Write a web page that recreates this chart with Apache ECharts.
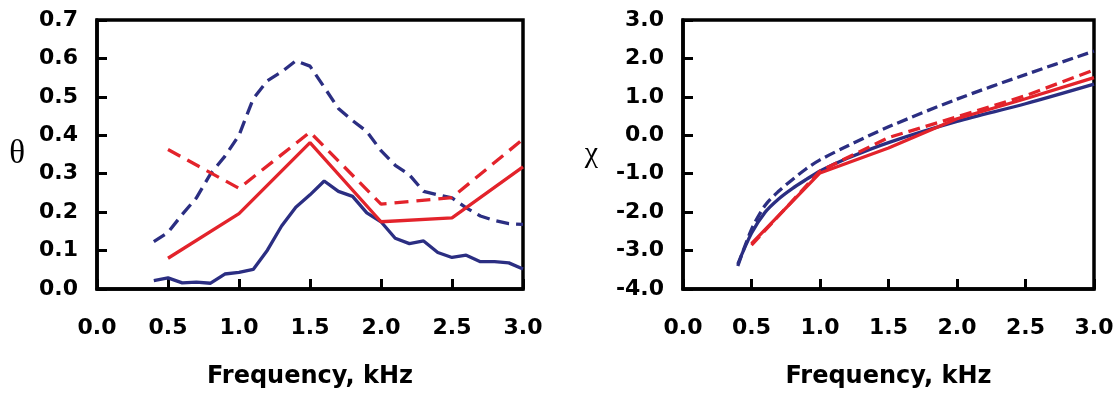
<!DOCTYPE html>
<html>
<head>
<meta charset="utf-8">
<script src="https://cdn.jsdelivr.net/npm/echarts@6/dist/echarts.min.js"></script>
<style>
html,body{margin:0;padding:0;background:#fff;}
#c{width:1120px;height:394px;}
</style>
</head>
<body>
<div id="c"></div>
<script>
// ---- data ----
const freqFine = [0.4,0.5,0.6,0.7,0.8,0.9,1.0,1.1,1.2,1.3,1.4,1.5,1.6,1.7,1.8,1.9,2.0,2.1,2.2,2.3,2.4,2.5,2.6,2.7,2.8,2.9,3.0];
const thetaBlueSolid = [0.022,0.029,0.016,0.018,0.015,0.039,0.043,0.051,0.101,0.164,0.213,0.245,0.281,0.254,0.241,0.198,0.175,0.132,0.118,0.125,0.095,0.082,0.088,0.071,0.071,0.068,0.052];
const thetaBlueDashed = [0.123,0.147,0.194,0.237,0.300,0.345,0.400,0.495,0.542,0.565,0.594,0.580,0.525,0.470,0.438,0.410,0.360,0.322,0.297,0.254,0.245,0.237,0.211,0.190,0.178,0.170,0.168];
const freqCoarse = [0.5,1.0,1.5,2.0,2.5,3.0];
const thetaRedSolid = [0.080,0.196,0.381,0.175,0.185,0.318];
const thetaRedDashed = [0.363,0.262,0.408,0.221,0.238,0.390];

const freqChi = [0.4,0.5,0.6,0.7,0.8,0.9,1.0,1.2,1.5,2.0,2.5,3.0];
const chiBlueSolid = [-3.35,-2.55,-2.0,-1.65,-1.38,-1.15,-0.93,-0.60,-0.19,0.36,0.82,1.33];
const chiBlueDashed = [-3.40,-2.45,-1.82,-1.45,-1.15,-0.87,-0.64,-0.28,0.22,0.94,1.58,2.19];
const chiRedSolid = [-2.82,-0.98,-0.33,0.43,0.95,1.50];
const chiRedDashed = [-2.86,-0.93,-0.06,0.48,1.03,1.70];

// ---- style ----
const NAVY = '#2b2e82';
const RED = '#e3232b';
const lblFont = {fontFamily:'DejaVu Sans', fontWeight:'bold', fontSize:22, color:'#000'};
const pair = (xs, ys) => xs.map((x,i)=>[x, ys[i]]);

function xAxisCfg(grid){
  return {
    gridIndex: grid, type:'value', min:0, max:3, interval:0.5,
    axisLine:{show:true, onZero:false, lineStyle:{color:'#000', width:3.5}},
    axisTick:{show:true, inside:true, length:10, lineStyle:{color:'#000', width:3}},
    splitLine:{show:false},
    axisLabel:Object.assign({margin:28, formatter:v=>v.toFixed(1)}, lblFont),
    name:'Frequency, kHz', nameLocation:'middle', nameGap:76,
    nameTextStyle:{fontFamily:'DejaVu Sans', fontWeight:'bold', fontSize:24, color:'#000'}
  };
}
function yAxisCfg(grid, min, max, interval, name, gap, fs){
  return {
    gridIndex: grid, type:'value', min:min, max:max, interval:interval,
    axisLine:{show:true, onZero:false, lineStyle:{color:'#000', width:3.5}},
    axisTick:{show:true, inside:true, length:10, lineStyle:{color:'#000', width:3}},
    splitLine:{show:false},
    axisLabel:Object.assign({margin:19, formatter:v=>v.toFixed(1)}, lblFont),
    name:name, nameLocation:'middle', nameRotate:0, nameGap:gap,
    nameTextStyle:{fontFamily:'Liberation Serif', fontSize:fs, color:'#000'}
  };
}
function line(xi, yi, data, color, dash, smooth){
  return {
    type:'line', xAxisIndex:xi, yAxisIndex:yi, data:data, showSymbol:false, symbol:'none',
    smooth: smooth || false,
    lineStyle:{color:color, width:3.3, type: dash || 'solid'},
    silent:true
  };
}

const chart = echarts.init(document.getElementById('c'), null, {renderer:'canvas'});
chart.setOption({
  animation:false,
  backgroundColor:'#fff',
  grid:[
    {left:97, top:20, width:426, height:272, show:true, borderColor:'#000', borderWidth:3.5},
    {left:683, top:20, width:411, height:272, show:true, borderColor:'#000', borderWidth:3.5}
  ],
  xAxis:[xAxisCfg(0), xAxisCfg(1)],
  yAxis:[yAxisCfg(0,0,0.7,0.1,'θ',72,33), yAxisCfg(1,-4,3,1,'χ',85,30)],
  series:[
    line(0,0,pair(freqFine,thetaBlueSolid),NAVY),
    line(0,0,pair(freqFine,thetaBlueDashed),NAVY,[13,7]),
    line(0,0,pair(freqCoarse,thetaRedSolid),RED),
    line(0,0,pair(freqCoarse,thetaRedDashed),RED,[14,8]),
    line(1,1,pair(freqChi,chiBlueSolid),NAVY,null,0.3),
    line(1,1,pair(freqChi,chiBlueDashed),NAVY,[11,5],0.3),
    line(1,1,pair(freqCoarse,chiRedSolid),RED),
    line(1,1,pair(freqCoarse,chiRedDashed),RED,[12,6])
  ]
});
</script>
</body>
</html>
